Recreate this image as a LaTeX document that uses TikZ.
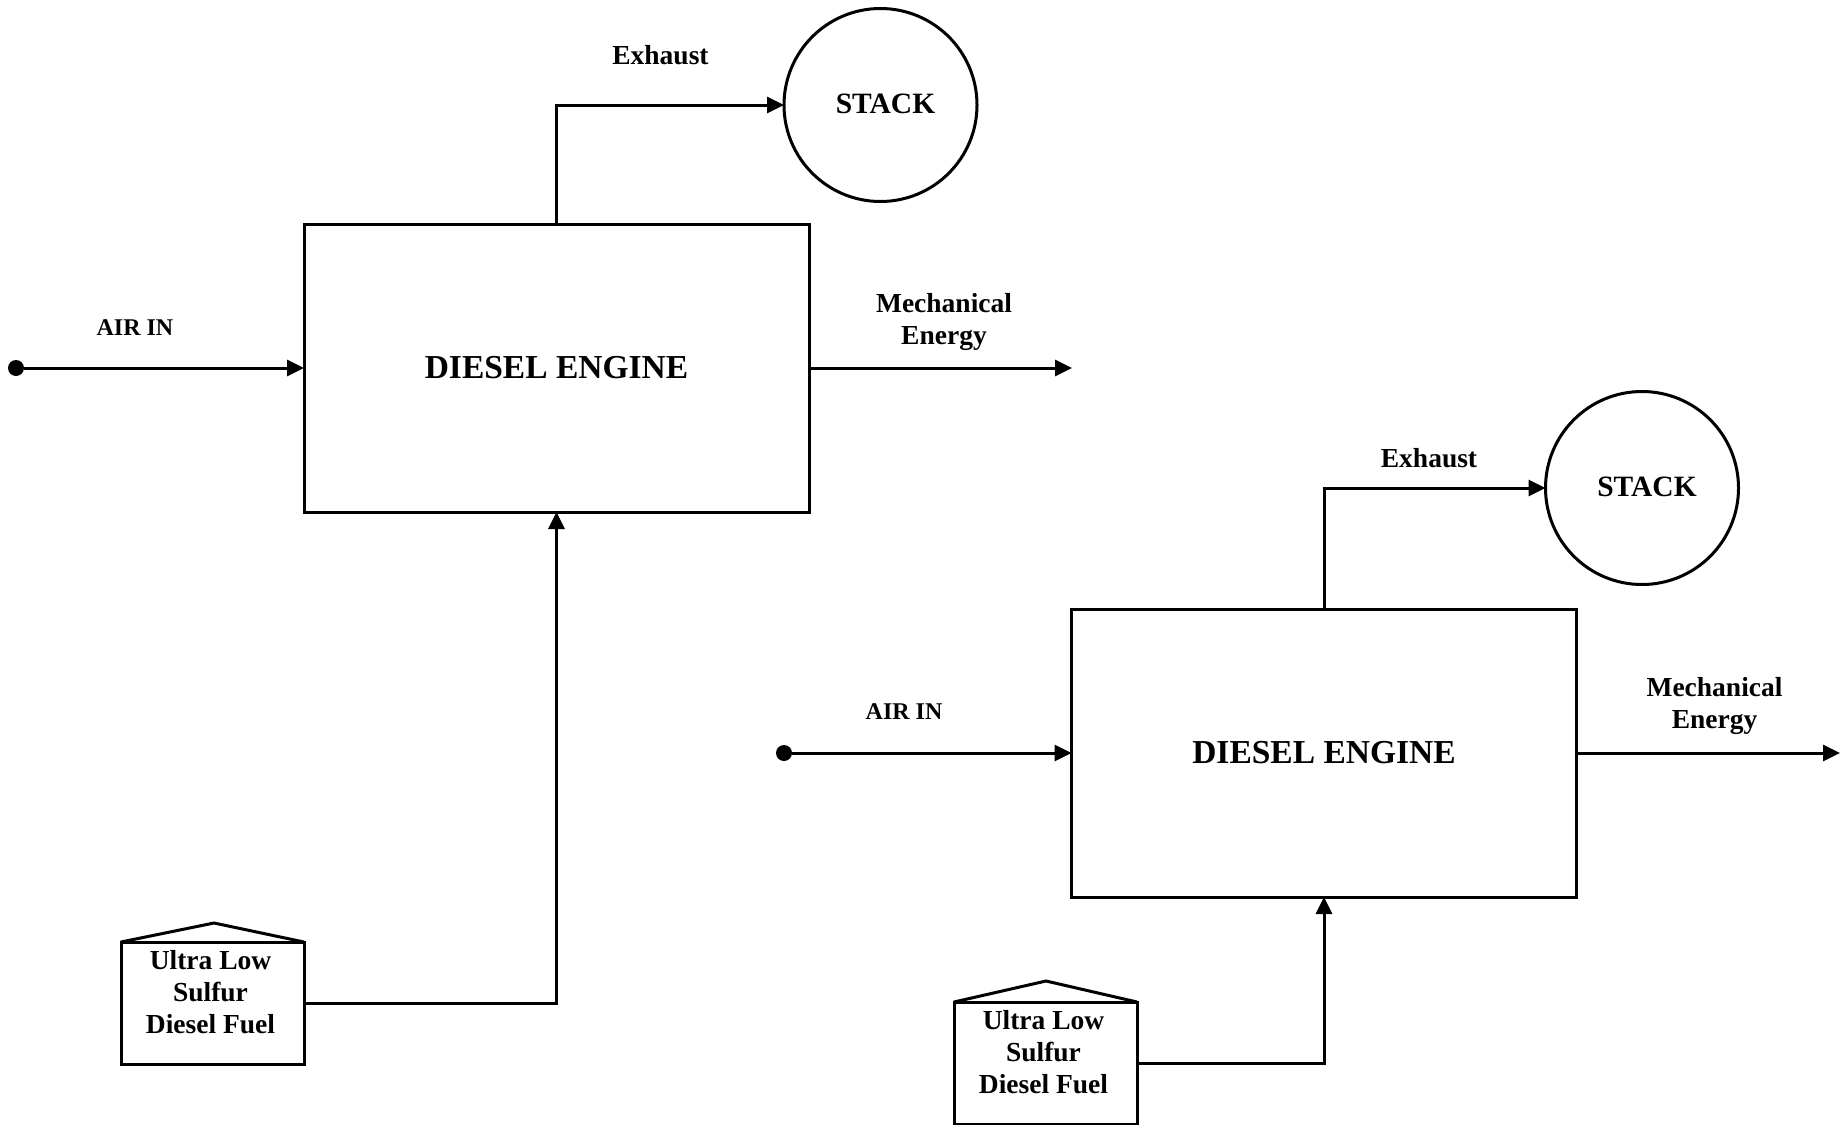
\documentclass[tikz,border=0pt]{standalone}
\usepackage{fontspec}
\setmainfont{Liberation Serif}
\usetikzlibrary{arrows.meta,calc}
\begin{document}
\begin{tikzpicture}[x=1pt,y=-1pt,
  engine/.style={draw, line width=3pt, minimum width=505pt, minimum height=288pt, inner sep=0pt, outer sep=0pt, font=\bfseries\fontsize{33.5}{40}\selectfont},
  stackc/.style={draw, circle, line width=3pt, minimum size=193pt, inner sep=0pt, outer sep=0pt},
  stacklabel/.style={inner sep=0pt, font=\bfseries\fontsize{29.5}{34}\selectfont},
  tankbox/.style={draw, line width=3pt, minimum width=183pt, minimum height=122pt, inner sep=0pt, outer sep=0pt},
  tanklabel/.style={align=center, inner sep=0pt, font=\bfseries\fontsize{27.5}{32}\selectfont},
  lbl/.style={inner sep=0pt, align=center, font=\bfseries\fontsize{27.5}{31.5}\selectfont},
  airlbl/.style={inner sep=0pt, font=\bfseries\fontsize{24}{28}\selectfont},
  flow/.style={line width=3pt, -{Triangle[length=17pt,width=16pt]}},
  pipe/.style={line width=3pt},
  dot/.style={circle, fill, inner sep=0pt, minimum size=16pt},
]
\useasboundingbox (0,0) rectangle (1846,1124);

% ---------- first system ----------
\node[engine] (eng1) at (556.5,368) {DIESEL ENGINE};
\node[stackc] (stack1) at (880.5,105) {};
\node[stacklabel] (stacktxt1) at (885.5,104) {STACK};
\node[dot] (air1) at (16,368) {};
\coordinate (mech1) at (1072,368);
\node[tankbox] (tank1) at (212.5,1003) {};
\coordinate (roof1) at (214,923);
\node[tanklabel] (fuel1) at (210.5,992.5) {Ultra Low\\Sulfur\\Diesel Fuel};

\node[airlbl] (airtxt1) at (135,328) {AIR IN};
\node[lbl] (exh1) at (660.5,55) {Exhaust};
\node[lbl] (mechtxt1) at (944,322) {Mechanical\\Energy};

\draw[flow] (air1) -- (eng1.west);
\draw[flow] (eng1.east) -- (mech1);
\draw[flow] (eng1.north) |- (stack1.west);
\draw[flow] (tank1.east) -| (eng1.south);
\draw[pipe, line join=miter] (tank1.north west) -- (roof1) -- (tank1.north east);

% ---------- second system ----------
\node[engine] (eng2) at (1324,753) {DIESEL ENGINE};
\node[stackc] (stack2) at (1642,488) {};
\node[stacklabel] (stacktxt2) at (1647,487) {STACK};
\node[dot] (air2) at (784,753) {};
\coordinate (mech2) at (1840,753);
\node[tankbox] (tank2) at (1045.5,1063) {};
\coordinate (roof2) at (1046,981);
\node[tanklabel] (fuel2) at (1043.5,1052.5) {Ultra Low\\Sulfur\\Diesel Fuel};

\node[airlbl] (airtxt2) at (904,712) {AIR IN};
\node[lbl] (exh2) at (1429,458) {Exhaust};
\node[lbl] (mechtxt2) at (1714.5,706) {Mechanical\\Energy};

\draw[flow] (air2) -- (eng2.west);
\draw[flow] (eng2.east) -- (mech2);
\draw[flow] (eng2.north) |- (stack2.west);
\draw[flow] (tank2.east) -| (eng2.south);
\draw[pipe, line join=miter] (tank2.north west) -- (roof2) -- (tank2.north east);
\end{tikzpicture}
\end{document}
